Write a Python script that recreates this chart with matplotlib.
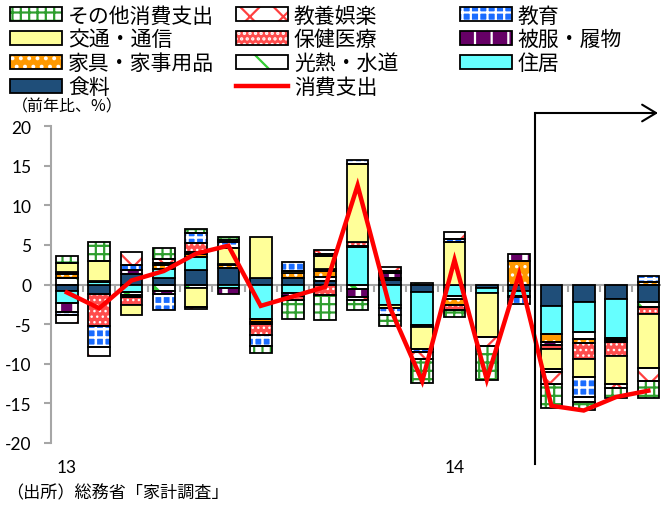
import numpy as np
import matplotlib
matplotlib.use('Agg')
import matplotlib.pyplot as plt
import matplotlib.transforms as mtransforms
from matplotlib.patches import Patch
from matplotlib.lines import Line2D
from matplotlib.legend_handler import HandlerTuple

plt.rcParams['font.family'] = ['Noto Sans CJK JP', 'DejaVu Sans']
plt.rcParams['hatch.linewidth'] = 1.6

# ---------------- data ----------------
months = ['2013/1', '2013/2', '2013/3', '2013/4', '2013/5', '2013/6', '2013/7',
          '2013/8', '2013/9', '2013/10', '2013/11', '2013/12', '2014/1', '2014/2',
          '2014/3', '2014/4', '2014/5', '2014/6', '2014/7']
year_labels = ['13', '14']
year_label_idx = [0, 12]

food      = [-0.8, -1.2, 1.3, 0.8, 1.8, 2.1, 0.8, 0.8, 0.4, 0.0, 0.6, -0.9, 0.0, -0.4, -0.8, -2.7, -2.2, -1.8, -2.2]
housing   = [-1.5, 0.3, -0.9, 1.2, 1.7, -0.4, -4.3, -1.1, 0.0, 4.7, -2.6, -4.2, -1.4, -0.7, -0.6, -3.6, -3.8, -4.9, 0.0]
utilities = [0.8, 0.0, -0.4, -0.8, -0.4, 0.0, 0.0, 0.0, 0.5, -0.6, 0.0, 0.2, -0.4, 0.0, 0.0, 0.0, -0.9, 0.0, -0.6]
furniture = [0.55, 0.2, -0.3, 0.45, 0.3, 0.3, -0.4, 0.7, 0.8, 0.2, 0.2, 0.0, -0.8, 0.0, 3.0, -1.0, -0.5, -0.3, 0.3]
clothing  = [-1.2, 0.0, 0.5, -0.4, 0.3, -0.8, -0.3, -0.3, 0.3, -1.0, 0.6, -0.3, 0.0, 0.0, 0.8, -0.3, 0.0, -0.2, 0.0]
medical   = [0.2, -4.0, -1.0, 0.2, 1.1, 0.2, -1.4, -0.5, -1.3, 0.4, 0.3, 0.0, -0.6, 0.0, -0.2, -0.6, -2.0, -1.8, -0.9]
transport = [1.1, 2.5, -1.3, 0.0, -2.4, 2.0, 5.2, 0.2, 1.6, 9.9, -0.4, -2.8, 5.4, -5.5, 0.0, -2.4, -2.3, -3.5, -6.8]
education = [-0.4, -2.7, 0.6, -2.0, 1.3, 0.8, -1.4, 1.1, 0.3, 0.5, -0.9, -0.3, 0.3, 0.0, -0.9, -0.5, -2.5, 0.0, 0.8]
recreation = [-1.0, -1.1, 1.7, 0.6, -0.3, 0.2, 0.0, 0.0, 0.5, -0.4, 0.5, -0.9, 0.9, -1.2, 0.0, -1.5, -0.6, -0.5, -1.7]
other     = [0.9, 2.3, 0.0, 1.4, 0.5, 0.4, -0.9, -2.4, -3.2, -1.2, -1.3, -3.0, -0.9, -4.2, 0.0, -3.0, -1.0, -1.3, -2.1]
consumption = [-1.0, -3.0, 0.5, 1.7, 3.9, 4.9, -2.7, -1.5, -0.3, 12.5, -2.9, -12.2, 3.1, -12.0, 1.3, -15.3, -15.9, -14.2, -13.4]

series_names = ['食料', '住居', '光熱・水道', '家具・家事用品', '被服・履物',
                '保健医療', '交通・通信', '教育', '教養娯楽', 'その他消費支出']
series_values = [food, housing, utilities, furniture, clothing,
                 medical, transport, education, recreation, other]
line_name = '消費支出'

# facecolor, hatch, hatch colour, hatch linewidth
styles = {
    '食料':         ('#1F4E79', None, None, None),
    '住居':         ('#66FFFF', None, None, None),
    '光熱・水道':   ('white', '\\', '#33CC33', 3.0),
    '家具・家事用品': ('#FF9900', '..', 'white', 1.2),
    '被服・履物':   ('#660066', '|', 'white', 4.0),
    '保健医療':     ('#FF4D4D', '...', 'white', 1.0),
    '交通・通信':   ('#FFFF99', None, None, None),
    '教育':         ('#1A6CFF', '++', 'white', 1.8),
    '教養娯楽':     ('white', 'x', '#FF4040', 1.6),
    'その他消費支出': ('white', '++', '#2E9E2E', 1.6),
}


def set_hlw(patches, lw):
    for p in patches:
        try:
            p.set_hatch_linewidth(lw)
        except AttributeError:
            pass


W, H = 661, 506
fig = plt.figure(figsize=(W / 100, H / 100), dpi=100)
ax_left, ax_right = 50.7, 664.5
ax_top, ax_bot = 127, 444
ax = fig.add_axes([ax_left / W, (H - ax_bot) / H, (ax_right - ax_left) / W, (ax_bot - ax_top) / H])

x = np.arange(len(months))
bw = 0.67
edge_lw = 1.3
pos_bottom = np.zeros(len(months))
neg_bottom = np.zeros(len(months))
for name, vals in zip(series_names, series_values):
    v = np.array(vals, dtype=float)
    fc, hatch, hc, hlw = styles[name]
    pos = np.where(v > 0, v, 0.0)
    neg = np.where(v < 0, v, 0.0)
    for part, bottom in ((pos, pos_bottom), (neg, neg_bottom)):
        m = part != 0
        if not m.any():
            continue
        if hatch:
            bars = ax.bar(x[m], part[m], bottom=bottom[m], width=bw, color=fc, hatch=hatch,
                          edgecolor=hc, linewidth=0, zorder=2)
            set_hlw(bars, hlw)
            ax.bar(x[m], part[m], bottom=bottom[m], width=bw, fill=False,
                   edgecolor='black', linewidth=edge_lw, zorder=3)
        else:
            ax.bar(x[m], part[m], bottom=bottom[m], width=bw, color=fc,
                   edgecolor='black', linewidth=edge_lw, zorder=3)
    pos_bottom = pos_bottom + pos
    neg_bottom = neg_bottom + neg

ax.plot(x, consumption, color='red', lw=3.2, zorder=6, solid_joinstyle='miter')

# axes styling
ax.set_xlim(-0.5, len(months) - 0.5)
ax.set_ylim(-20, 20)
ax.set_yticks(range(-20, 21, 5))
ax.set_yticklabels([str(t) for t in range(-20, 21, 5)], family=['Lato', 'DejaVu Sans'], fontsize=12.5)
ax.set_xticks(np.arange(-0.5, len(months), 1.0))
ax.set_xticklabels([])
grey = '#A6A6A6'
for s in ('top', 'right'):
    ax.spines[s].set_visible(False)
ax.spines['bottom'].set_position(('data', 0))
ax.spines['bottom'].set_color(grey)
ax.spines['bottom'].set_linewidth(1.5)
ax.spines['bottom'].set_zorder(1)
ax.spines['left'].set_color(grey)
ax.spines['left'].set_linewidth(1.5)
ax.tick_params(axis='y', colors=grey, labelcolor='black', length=5, width=1.5, pad=9)
ax.tick_params(axis='x', colors=grey, length=5, width=1.5, direction='out')
ax.set_facecolor('none')

# year labels
tr = mtransforms.blended_transform_factory(ax.transData, fig.transFigure)
for lab, idx in zip(year_labels, year_label_idx):
    ax.text(idx, (H - 468) / H, lab, transform=tr, ha='center', va='center',
            fontsize=12.5, family=['Lato', 'DejaVu Sans'])

# divider with arrow
y_top = (285.5 - 114) / 7.925
y_bottom = (285.5 - 465) / 7.925
ax.plot([14.5, 14.5], [y_top, y_bottom], color='black', lw=1.5, clip_on=False, zorder=7)
ax.annotate('', xy=(18.3, y_top), xytext=(14.5, y_top),
            arrowprops=dict(arrowstyle='->,head_length=1.0,head_width=0.6', lw=1.5,
                            color='black', shrinkA=0, shrinkB=0),
            annotation_clip=False)

# texts
fig.text(12 / W, (H - 107) / H, '（前年比、%）', fontsize=11.5, va='center', ha='left')
fig.text(6 / W, (H - 493) / H, '（出所）総務省「家計調査」', fontsize=12.3, va='center', ha='left')

# legend
def handle(name):
    fc, hatch, hc, hlw = styles[name]
    if hatch:
        p = Patch(facecolor=fc, hatch=hatch, edgecolor=hc, linewidth=0)
        set_hlw([p], hlw)
        return (p, Patch(fill=False, edgecolor='black', linewidth=edge_lw))
    return Patch(facecolor=fc, edgecolor='black', linewidth=edge_lw)

line_handle = Line2D([], [], color='red', lw=3.2)
columns = [
    (10, ['その他消費支出', '交通・通信', '家具・家事用品', '食料']),
    (236, ['教養娯楽', '保健医療', '光熱・水道', line_name]),
    (460, ['教育', '被服・履物', '住居']),
]
for xpx, names in columns:
    hs = [line_handle if n == line_name else handle(n) for n in names]
    fig.legend(hs, names, loc='upper left', bbox_to_anchor=(xpx / W, (H - 5.5) / H),
               frameon=False, fontsize=15, borderpad=0, borderaxespad=0,
               handlelength=2.5, handleheight=0.67, handletextpad=0.28, labelspacing=0.09,
               handler_map={tuple: HandlerTuple(ndivide=1, pad=0)})

fig.savefig('out.png', dpi=100)
